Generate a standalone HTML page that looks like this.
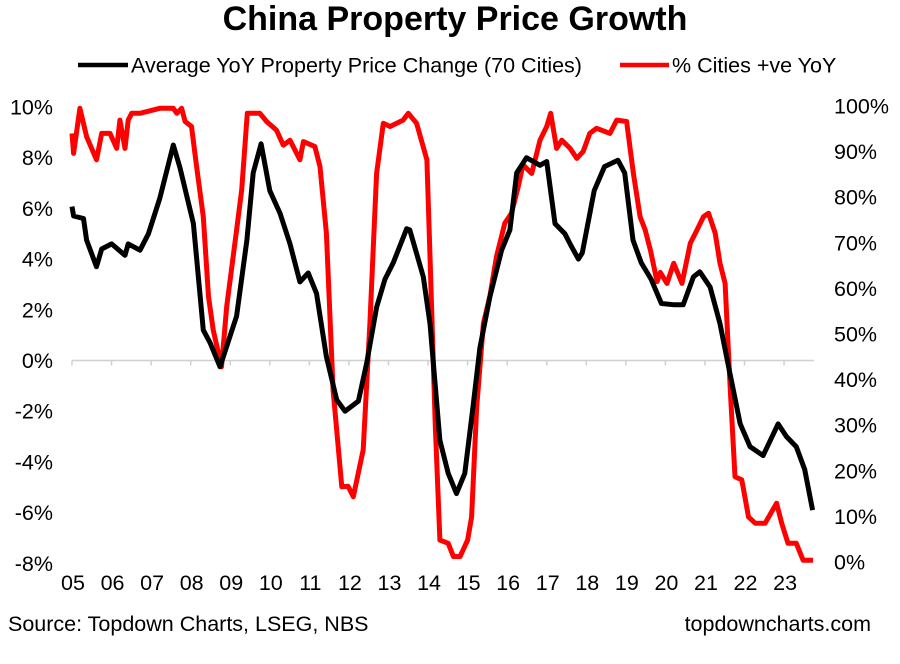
<!DOCTYPE html>
<html><head><meta charset="utf-8"><style>
body{margin:0;background:#fff;}
svg{display:block;font-family:"Liberation Sans",Arial,sans-serif;}
</style></head><body>
<svg id="chart" width="900" height="664" viewBox="0 0 900 664" xmlns="http://www.w3.org/2000/svg">
<text x="455" y="30" text-anchor="middle" font-size="34" font-weight="bold" fill="#000">China Property Price Growth</text>
<g>
<line x1="78" y1="65" x2="128" y2="65" stroke="#000" stroke-width="4.5"/>
<text x="131" y="72.5" font-size="21.5" fill="#000">Average YoY Property Price Change (70 Cities)</text>
<line x1="620" y1="65" x2="669" y2="65" stroke="#f00" stroke-width="4.5"/>
<text x="672" y="72.5" font-size="21.5" fill="#000">% Cities +ve YoY</text>
</g>
<g id="axes"></g>
<g id="series"></g>
<text x="8" y="631" font-size="21.5" fill="#000">Source: Topdown Charts, LSEG, NBS</text>
<text x="871" y="631" text-anchor="end" font-size="21.5" fill="#000">topdowncharts.com</text>
</svg>
<script>
const years = ["05","06","07","08","09","10","11","12","13","14","15","16","17","18","19","20","21","22","23"];
const leftTicks = [-8,-6,-4,-2,0,2,4,6,8,10];
const rightTicks = [0,10,20,30,40,50,60,70,80,90,100];
const avgDates = [2005.0,2005.04,2005.29,2005.37,2005.62,2005.75,2006.0,2006.34,2006.42,2006.72,2006.93,2007.22,2007.56,2007.73,2008.07,2008.32,2008.49,2008.74,2009.16,2009.42,2009.58,2009.78,2010.0,2010.26,2010.51,2010.76,2010.97,2011.18,2011.43,2011.69,2011.9,2012.24,2012.45,2012.7,2012.91,2013.12,2013.46,2013.54,2013.88,2014.05,2014.3,2014.51,2014.72,2014.93,2015.14,2015.31,2015.56,2015.86,2016.07,2016.24,2016.49,2016.83,2017.0,2017.21,2017.46,2017.59,2017.8,2017.9,2018.2,2018.46,2018.8,2018.97,2019.18,2019.39,2019.64,2019.9,2020.2,2020.45,2020.71,2020.87,2021.13,2021.38,2021.63,2021.89,2022.14,2022.47,2022.85,2023.06,2023.31,2023.52,2023.72];
const avgValues = [6.07,5.7,5.6,4.75,3.7,4.4,4.6,4.15,4.6,4.35,5.0,6.4,8.5,7.6,5.4,1.2,0.7,-0.25,1.75,4.75,7.4,8.55,6.7,5.8,4.6,3.1,3.45,2.65,0.15,-1.55,-2.0,-1.6,-0.1,2.1,3.2,3.85,5.2,5.15,3.3,1.45,-3.15,-4.45,-5.25,-4.45,-1.8,0.5,2.5,4.35,5.15,7.4,8.0,7.7,7.85,5.4,5.0,4.6,4.0,4.25,6.7,7.65,7.9,7.4,4.75,3.85,3.2,2.25,2.2,2.2,3.3,3.5,2.9,1.45,-0.5,-2.5,-3.4,-3.75,-2.5,-3.0,-3.4,-4.3,-5.9];
const pctDates = [2005.0,2005.04,2005.2,2005.37,2005.62,2005.75,2005.96,2006.13,2006.21,2006.34,2006.42,2006.51,2006.72,2007.22,2007.56,2007.65,2007.77,2007.86,2008.02,2008.15,2008.32,2008.45,2008.57,2008.78,2008.91,2009.16,2009.29,2009.43,2009.75,2009.92,2010.17,2010.34,2010.51,2010.76,2010.85,2011.14,2011.27,2011.43,2011.6,2011.82,2011.98,2012.11,2012.36,2012.53,2012.7,2012.87,2013.04,2013.37,2013.5,2013.71,2013.97,2014.05,2014.18,2014.3,2014.51,2014.64,2014.81,2015.0,2015.1,2015.23,2015.4,2015.56,2015.73,2015.94,2016.11,2016.28,2016.4,2016.62,2016.83,2017.0,2017.1,2017.25,2017.38,2017.59,2017.76,2017.92,2018.09,2018.26,2018.6,2018.77,2019.02,2019.19,2019.36,2019.49,2019.62,2019.79,2019.87,2020.04,2020.21,2020.42,2020.63,2020.8,2020.96,2021.09,2021.26,2021.38,2021.51,2021.64,2021.76,2021.93,2022.1,2022.27,2022.52,2022.81,2022.94,2023.1,2023.31,2023.48,2023.73];
const pctValues = [94,89.6,99.5,93.3,88.2,94,94,90.7,96.9,90.7,96.9,98.4,98.4,99.5,99.5,98.4,99.5,96.6,95.5,86.7,75.7,58.2,50.9,42.8,56,72.8,81.6,98.4,98.4,96.6,94.7,91.4,92.5,88.2,92.2,91.1,86.7,72.1,37.7,16.5,16.6,14.3,24.6,52.3,85.2,96.2,95.5,96.9,98.4,96.2,88.2,67,30.4,4.8,4.1,1.2,1.2,4.8,9.9,34,52.3,58.2,67,74.3,76.5,82.3,87.1,85.2,92.5,95.5,98.4,90.7,92.5,90.7,88.5,90,94,95.1,94,96.9,96.6,85.2,75.7,72.8,68.4,61.5,63.5,61.1,65.5,61.1,69.9,72.8,75.7,76.5,72.1,65.5,61.1,37.7,18.7,18,9.9,8.5,8.5,12.9,8.5,4.1,4.1,0.4,0.4];

const NS="http://www.w3.org/2000/svg";
const X0=72, PX_PER_YEAR=39.56, PLOT_R=814;
function xScale(t){return X0+(t-2005)*PX_PER_YEAR;}
function yLeft(v){return 360.5-v*25.35;}
function yRight(v){return 562-v*4.56;}
function mk(tag,attrs,parent){const e=document.createElementNS(NS,tag);for(const k in attrs)e.setAttribute(k,attrs[k]);parent.appendChild(e);return e;}
const axes=document.getElementById('axes');
const series=document.getElementById('series');

const zl=mk('line',{x1:X0,x2:PLOT_R,y1:yLeft(0),y2:yLeft(0),stroke:'#d0d0d0','stroke-width':1.5},axes);



years.forEach((y,i)=>{
  const x=xScale(2005+i);
  const tk=mk('line',{x1:x,x2:x,y1:yLeft(0),y2:yLeft(0)+5,stroke:'#d0d0d0','stroke-width':1.5},axes);
  
  
  const t=mk('text',{x:x+1,y:590,'text-anchor':'middle','font-size':21.5,fill:'#000'},axes);
  t.textContent=y;
  
  
});
leftTicks.forEach(v=>{
  const t=mk('text',{x:53,y:yLeft(v)+7.5,'text-anchor':'end','font-size':21.5,fill:'#000'},axes);
  t.textContent=v+'%';
  
  
});
rightTicks.forEach(v=>{
  const t=mk('text',{x:834,y:yRight(v)+7.5,'text-anchor':'start','font-size':21.5,fill:'#000'},axes);
  t.textContent=v+'%';
  
  
});

const redPts=pctDates.map((d,i)=>xScale(d).toFixed(1)+','+yRight(pctValues[i]).toFixed(1)).join(' ');
const red=mk('polyline',{points:redPts,fill:'none',stroke:'#ff0000','stroke-width':5,'stroke-linejoin':'round'},series);



const blkPts=avgDates.map((d,i)=>xScale(d).toFixed(1)+','+yLeft(avgValues[i]).toFixed(1)).join(' ');
const blk=mk('polyline',{points:blkPts,fill:'none',stroke:'#000','stroke-width':5,'stroke-linejoin':'round'},series);


</script>
</body></html>
